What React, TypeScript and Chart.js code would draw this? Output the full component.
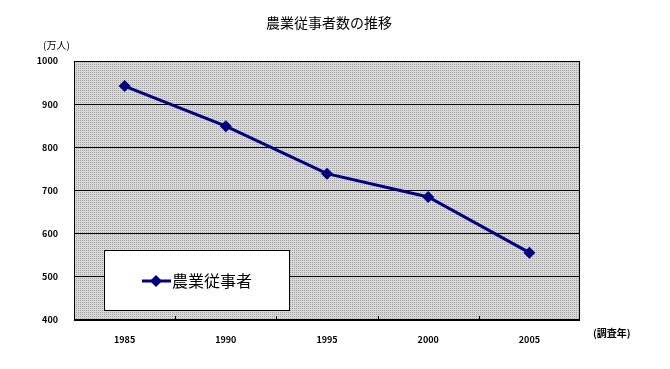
import React, { useEffect, useRef } from "react";
import { Chart, registerables } from "chart.js";

Chart.register(...registerables);

const title = "農業従事者数の推移";
const seriesLabel = "農業従事者";
const years = ["1985", "1990", "1995", "2000", "2005"];
const workers = [942, 849, 739, 685, 556];
const yTicks = [400, 500, 600, 700, 800, 900, 1000];
const yUnit = "(万人)";
const xUnit = "(調査年)";

const FONT = "'Noto Sans CJK JP', 'DejaVu Sans', sans-serif";

function makePattern(ctx: CanvasRenderingContext2D) {
  const c = document.createElement("canvas");
  c.width = 2;
  c.height = 2;
  const p = c.getContext("2d")!;
  p.fillStyle = "#d8d8d8";
  p.fillRect(0, 0, 2, 2);
  p.fillStyle = "#a4a4a4";
  p.fillRect(0, 0, 1, 1);
  return ctx.createPattern(c, "repeat");
}

const decor = {
  id: "decor",
  beforeDraw(chart: any) {
    const { ctx, chartArea: a } = chart;
    ctx.save();
    const pat = makePattern(ctx);
    ctx.fillStyle = pat || "#c8c8c8";
    ctx.fillRect(a.left, a.top, a.right - a.left, a.bottom - a.top);
    ctx.restore();
  },
  afterDraw(chart: any) {
    const { ctx, chartArea: a } = chart;
    ctx.save();
    ctx.strokeStyle = "#000";
    ctx.lineWidth = 1;
    ctx.strokeRect(a.left + 0.5, a.top + 0.5, a.right - a.left - 1, a.bottom - a.top - 1);
    const n = years.length;
    const w = (a.right - a.left) / n;
    ctx.beginPath();
    for (let i = 1; i < n; i++) {
      const x = Math.round(a.left + w * i) + 0.5;
      ctx.moveTo(x, a.bottom - 4);
      ctx.lineTo(x, a.bottom);
    }
    ctx.stroke();
    ctx.fillStyle = "#000";
    ctx.textAlign = "center";
    ctx.textBaseline = "middle";
    ctx.font = `14px ${FONT}`;
    ctx.fillText(title, 329, 23);
    ctx.font = `10px ${FONT}`;
    ctx.textAlign = "left";
    ctx.fillText(yUnit, 43, 45);
    ctx.font = `bold 10px ${FONT}`;
    ctx.fillText(xUnit, 593, 333);
    const lx = 104, ly = 250, lw = 186, lh = 61;
    ctx.fillStyle = "#fff";
    ctx.fillRect(lx, ly, lw, lh);
    ctx.strokeStyle = "#000";
    ctx.strokeRect(lx + 0.5, ly + 0.5, lw - 1, lh - 1);
    const cy = ly + 31;
    ctx.strokeStyle = "#000080";
    ctx.lineWidth = 3;
    ctx.beginPath();
    ctx.moveTo(142, cy);
    ctx.lineTo(171, cy);
    ctx.stroke();
    ctx.fillStyle = "#000080";
    ctx.beginPath();
    ctx.moveTo(156, cy - 6);
    ctx.lineTo(162, cy);
    ctx.lineTo(156, cy + 6);
    ctx.lineTo(150, cy);
    ctx.closePath();
    ctx.fill();
    ctx.fillStyle = "#000";
    ctx.font = `16px ${FONT}`;
    ctx.textAlign = "left";
    ctx.fillText(seriesLabel, 172, cy);
    ctx.restore();
  },
};

export default function App() {
  const ref = useRef<HTMLCanvasElement>(null);
  useEffect(() => {
    document.body.style.margin = "0";
    const chart = new Chart(ref.current!, {
      type: "line",
      data: {
        labels: years,
        datasets: [
          {
            label: seriesLabel,
            data: workers,
            borderColor: "#000080",
            backgroundColor: "#000080",
            borderWidth: 3,
            pointStyle: "rectRot",
            pointRadius: 6,
            pointBorderWidth: 0,
            tension: 0,
          },
        ],
      },
      options: {
        animation: false,
        responsive: false,
        layout: { padding: { top: 61, right: 90, left: 0, bottom: 0 } },
        plugins: { legend: { display: false }, title: { display: false }, tooltip: { enabled: false } },
        scales: {
          x: {
            offset: true,
            grid: { display: false },
            border: { display: false },
            ticks: { color: "#000", font: { family: FONT, size: 9, weight: "bold" }, padding: 6, maxRotation: 0 },
            afterFit: (s: any) => { s.height = 49; },
          },
          y: {
            min: 400,
            max: 1000,
            afterBuildTicks: (s: any) => { s.ticks = yTicks.map((v) => ({ value: v })); },
            grid: { color: "#000", lineWidth: 1, drawTicks: false },
            border: { display: false },
            ticks: {
              color: "#000",
              font: { family: FONT, size: 9, weight: "bold" },
              padding: 16,
              callback: (v: any) => String(v),
            },
            afterFit: (s: any) => { s.width = 74; },
          },
        },
      },
      plugins: [decor],
    } as any);
    return () => chart.destroy();
  }, []);
  return <canvas ref={ref} width={670} height={369} style={{ display: "block" }} />;
}
